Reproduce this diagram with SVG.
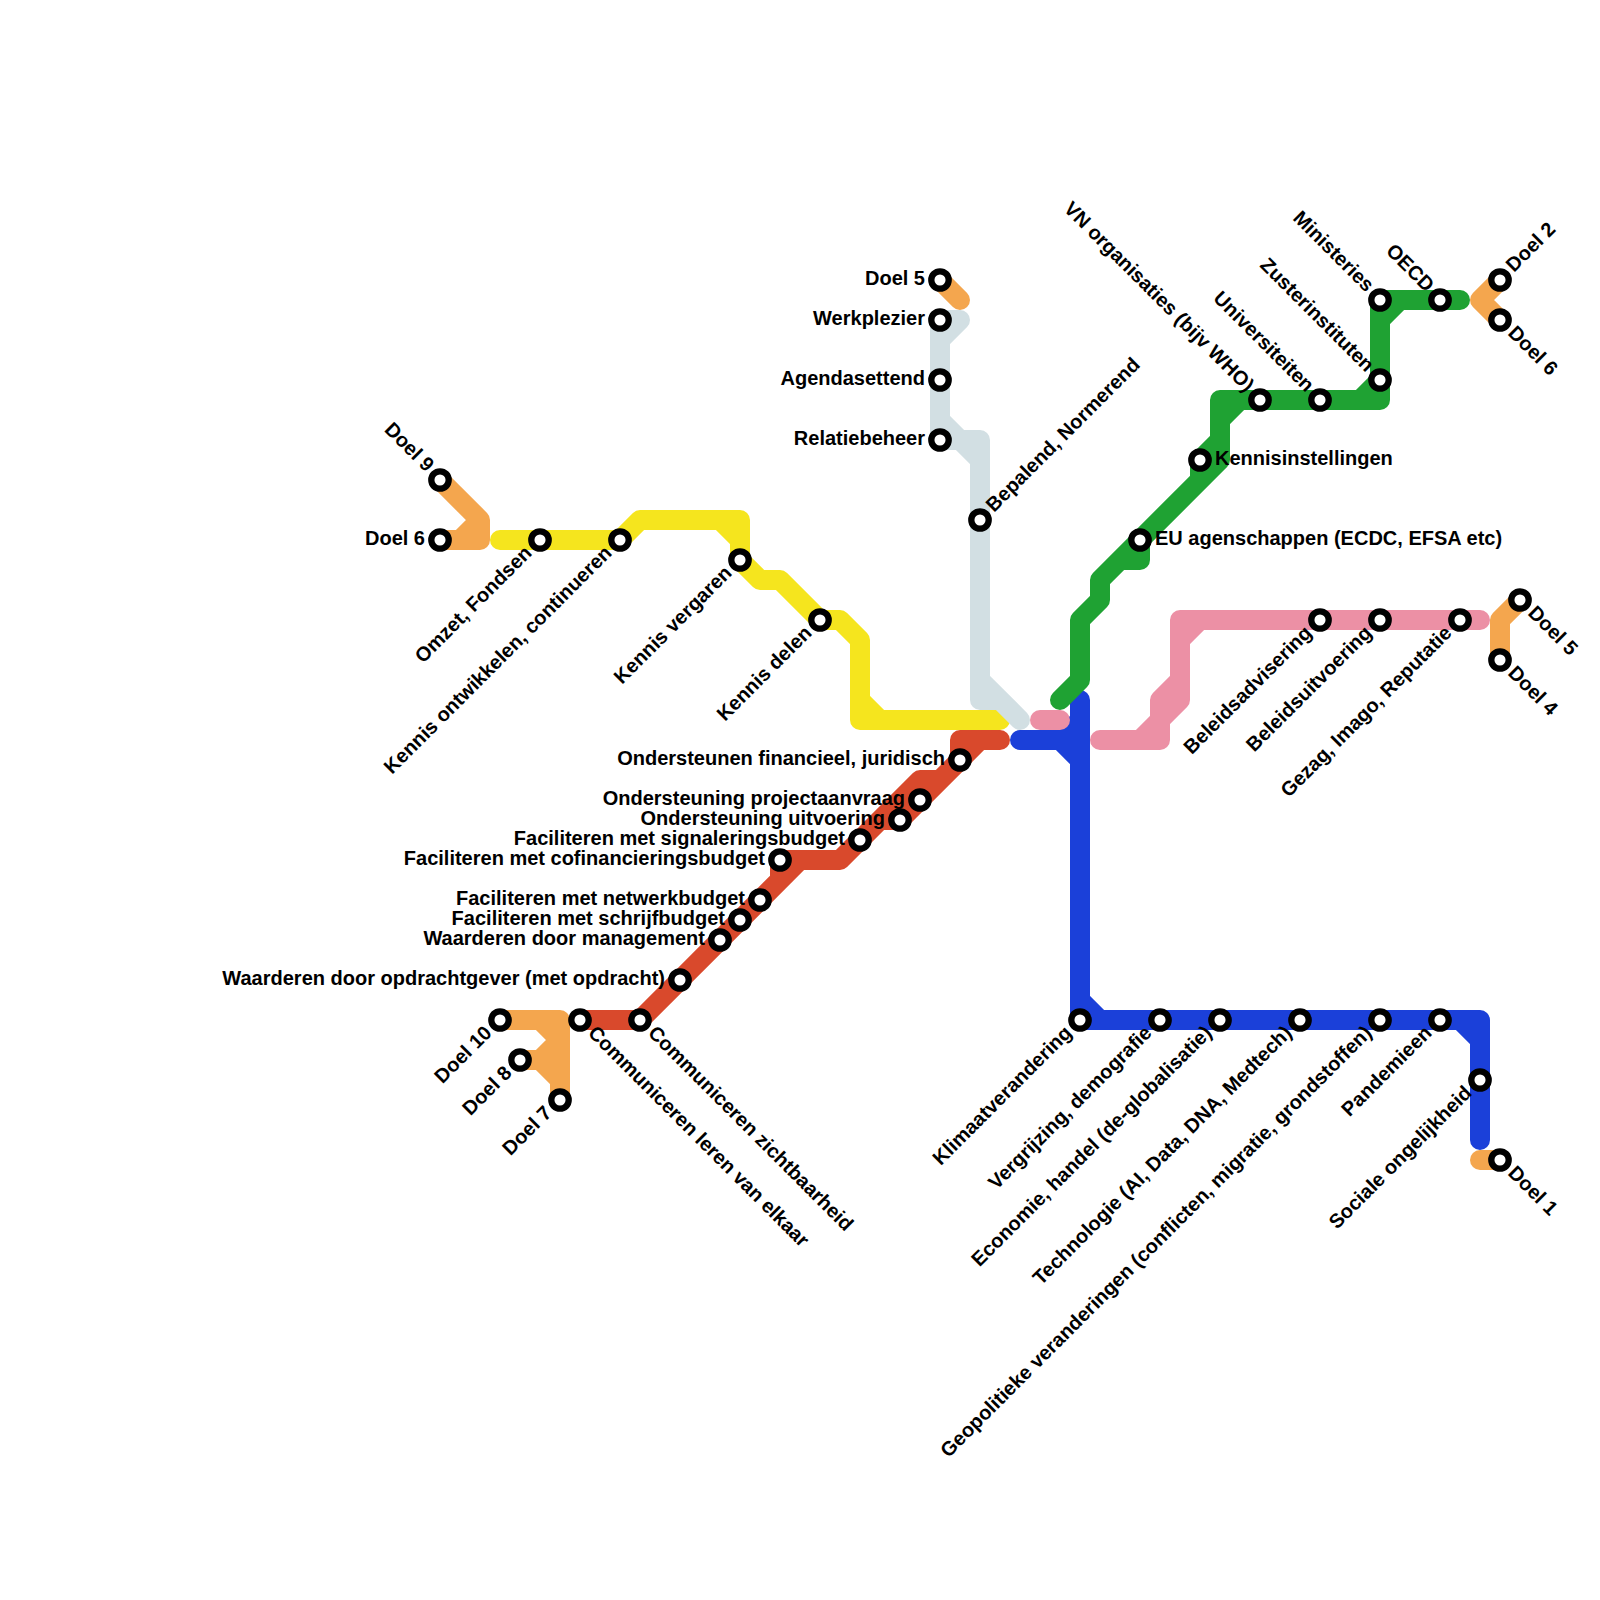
<svg xmlns="http://www.w3.org/2000/svg" width="1600" height="1600" viewBox="0 0 1600 1600">
<style>
.l{fill:none;stroke-width:20;stroke-linecap:round;stroke-linejoin:round}
.or{stroke:#f4a64e}.ye{stroke:#f5e51e}.gr{stroke:#d2dfe3}.re{stroke:#d9492c}.bl{stroke:#1b40d9}.gn{stroke:#1fa233}.pk{stroke:#ec90a5}
.s{fill:#fff;stroke:#000;stroke-width:6.3}
text{font-family:"Liberation Sans",Arial,sans-serif;font-weight:700;font-size:20px;fill:#000}
.e{text-anchor:end}
</style>
<rect width="1600" height="1600" fill="#fff"/>
<g id="connectors">
<path class="l or" d="M440 480L480 520V540H440M460 540L480 520"/>
<path class="l or" d="M940 280L960 300"/>
<path class="l or" d="M1500 280L1480 300L1500 320"/>
<path class="l or" d="M1500 660V620L1520 600"/>
<path class="l or" d="M1480 1160H1500"/>
<path class="l or" d="M500 1020H560V1100M540 1020L560 1040L540 1060H520M540 1060L560 1080"/>
<path class="l ye" d="M500 540H620L640 520H740V560L760 580H780L820 620H840L860 640V720H1000M720 520L740 540M860 700L880 720"/>
<path class="l gr" d="M960 320H940V440H960L980 460V700H1000L1020 720M960 320L940 340M940 420L960 440H980V460M980 680L1020 720"/>
<path class="l re" d="M580 1020H640L800 860H840L880 820H900L980 740H1000M760 900L780 880V860H840L920 780H940L960 760V740H1000"/>
<path class="l bl" d="M1080 700V1020H1480V1140M1020 740H1060L1080 720M1060 740L1080 760M1080 1000L1100 1020M1460 1020L1480 1040"/>
<path class="l gn" d="M1460 300H1380V400H1220V440L1200 460V480M1380 320L1400 300M1360 400L1380 380M1220 420L1240 400M1220 460L1100 580V600L1080 620V680L1060 700M1140 540V560H1120L1100 580M1220 440V460"/>
<path class="l pk" d="M1040 720H1060"/>
<path class="l pk" d="M1100 740H1160V720L1180 700V620H1480M1140 740L1160 720V700L1180 680M1180 640L1200 620"/>
</g>
<g id="n-doel9"><circle class="s" cx="440" cy="480" r="8.7"/><text class="e" transform="translate(425.9 472.9) rotate(45)">Doel 9</text></g>
<g id="n-doel6a"><circle class="s" cx="440" cy="540" r="8.7"/><text class="e" x="425" y="545">Doel 6</text></g>
<g id="n-omzet"><circle class="s" cx="540" cy="540" r="8.7"/><text class="e" transform="translate(532.9 554.1) rotate(-45)">Omzet, Fondsen</text></g>
<g id="n-ontwikkelen"><circle class="s" cx="620" cy="540" r="8.7"/><text class="e" transform="translate(612.9 554.1) rotate(-45)">Kennis ontwikkelen, continueren</text></g>
<g id="n-vergaren"><circle class="s" cx="740" cy="560" r="8.7"/><text class="e" transform="translate(732.9 574.1) rotate(-45)">Kennis vergaren</text></g>
<g id="n-delen"><circle class="s" cx="820" cy="620" r="8.7"/><text class="e" transform="translate(812.9 634.1) rotate(-45)">Kennis delen</text></g>
<g id="n-doel5a"><circle class="s" cx="940" cy="280" r="8.7"/><text class="e" x="925" y="285">Doel 5</text></g>
<g id="n-werkplezier"><circle class="s" cx="940" cy="320" r="8.7"/><text class="e" x="925" y="325">Werkplezier</text></g>
<g id="n-agenda"><circle class="s" cx="940" cy="380" r="8.7"/><text class="e" x="925" y="385">Agendasettend</text></g>
<g id="n-relatie"><circle class="s" cx="940" cy="440" r="8.7"/><text class="e" x="925" y="445">Relatiebeheer</text></g>
<g id="n-bepalend"><circle class="s" cx="980" cy="520" r="8.7"/><text transform="translate(994.1 512.9) rotate(-45)">Bepalend, Normerend</text></g>
<g id="n-financieel"><circle class="s" cx="960" cy="760" r="8.7"/><text class="e" x="945" y="765">Ondersteunen financieel, juridisch</text></g>
<g id="n-project"><circle class="s" cx="920" cy="800" r="8.7"/><text class="e" x="905" y="805">Ondersteuning projectaanvraag</text></g>
<g id="n-uitvoering"><circle class="s" cx="900" cy="820" r="8.7"/><text class="e" x="885" y="825">Ondersteuning uitvoering</text></g>
<g id="n-signalering"><circle class="s" cx="860" cy="840" r="8.7"/><text class="e" x="845" y="845">Faciliteren met signaleringsbudget</text></g>
<g id="n-cofin"><circle class="s" cx="780" cy="860" r="8.7"/><text class="e" x="765" y="865">Faciliteren met cofinancieringsbudget</text></g>
<g id="n-netwerk"><circle class="s" cx="760" cy="900" r="8.7"/><text class="e" x="745" y="905">Faciliteren met netwerkbudget</text></g>
<g id="n-schrijf"><circle class="s" cx="740" cy="920" r="8.7"/><text class="e" x="725" y="925">Faciliteren met schrijfbudget</text></g>
<g id="n-management"><circle class="s" cx="720" cy="940" r="8.7"/><text class="e" x="705" y="945">Waarderen door management</text></g>
<g id="n-opdrachtgever"><circle class="s" cx="680" cy="980" r="8.7"/><text class="e" x="665" y="985">Waarderen door opdrachtgever (met opdracht)</text></g>
<g id="n-zichtbaar"><circle class="s" cx="640" cy="1020" r="8.7"/><text transform="translate(647.1 1034.1) rotate(45)">Communiceren zichtbaarheid</text></g>
<g id="n-leren"><circle class="s" cx="580" cy="1020" r="8.7"/><text transform="translate(587.1 1034.1) rotate(45)">Communiceren leren van elkaar</text></g>
<g id="n-doel10"><circle class="s" cx="500" cy="1020" r="8.7"/><text class="e" transform="translate(492.9 1034.1) rotate(-45)">Doel 10</text></g>
<g id="n-doel8"><circle class="s" cx="520" cy="1060" r="8.7"/><text class="e" transform="translate(512.9 1074.1) rotate(-45)">Doel 8</text></g>
<g id="n-doel7"><circle class="s" cx="560" cy="1100" r="8.7"/><text class="e" transform="translate(552.9 1114.1) rotate(-45)">Doel 7</text></g>
<g id="n-klimaat"><circle class="s" cx="1080" cy="1020" r="8.7"/><text class="e" transform="translate(1072.9 1034.1) rotate(-45)">Klimaatverandering</text></g>
<g id="n-vergrijzing"><circle class="s" cx="1160" cy="1020" r="8.7"/><text class="e" transform="translate(1152.9 1034.1) rotate(-45)">Vergrijzing, demografie</text></g>
<g id="n-economie"><circle class="s" cx="1220" cy="1020" r="8.7"/><text class="e" transform="translate(1212.9 1034.1) rotate(-45)">Economie, handel (de-globalisatie)</text></g>
<g id="n-technologie"><circle class="s" cx="1300" cy="1020" r="8.7"/><text class="e" transform="translate(1292.9 1034.1) rotate(-45)">Technologie (AI, Data, DNA, Medtech)</text></g>
<g id="n-geopolitiek"><circle class="s" cx="1380" cy="1020" r="8.7"/><text class="e" transform="translate(1372.9 1034.1) rotate(-45)">Geopolitieke veranderingen (conflicten, migratie, grondstoffen)</text></g>
<g id="n-pandemie"><circle class="s" cx="1440" cy="1020" r="8.7"/><text class="e" transform="translate(1432.9 1034.1) rotate(-45)">Pandemieen</text></g>
<g id="n-sociaal"><circle class="s" cx="1480" cy="1080" r="8.7"/><text class="e" transform="translate(1472.9 1094.1) rotate(-45)">Sociale ongelijkheid</text></g>
<g id="n-doel1"><circle class="s" cx="1500" cy="1160" r="8.7"/><text transform="translate(1507.1 1174.1) rotate(45)">Doel 1</text></g>
<g id="n-advisering"><circle class="s" cx="1320" cy="620" r="8.7"/><text class="e" transform="translate(1312.9 634.1) rotate(-45)">Beleidsadvisering</text></g>
<g id="n-beleiduitv"><circle class="s" cx="1380" cy="620" r="8.7"/><text class="e" transform="translate(1372.9 634.1) rotate(-45)">Beleidsuitvoering</text></g>
<g id="n-gezag"><circle class="s" cx="1460" cy="620" r="8.7"/><text class="e" transform="translate(1452.9 634.1) rotate(-45)">Gezag, Imago, Reputatie</text></g>
<g id="n-doel5b"><circle class="s" cx="1520" cy="600" r="8.7"/><text transform="translate(1527.1 614.1) rotate(45)">Doel 5</text></g>
<g id="n-doel4"><circle class="s" cx="1500" cy="660" r="8.7"/><text transform="translate(1507.1 674.1) rotate(45)">Doel 4</text></g>
<g id="n-eu"><circle class="s" cx="1140" cy="540" r="8.7"/><text x="1155" y="545">EU agenschappen (ECDC, EFSA etc)</text></g>
<g id="n-kennisinst"><circle class="s" cx="1200" cy="460" r="8.7"/><text x="1215" y="465">Kennisinstellingen</text></g>
<g id="n-vn"><circle class="s" cx="1260" cy="400" r="8.7"/><text class="e" transform="translate(1245.9 392.9) rotate(45)">VN organisaties (bijv WHO)</text></g>
<g id="n-univ"><circle class="s" cx="1320" cy="400" r="8.7"/><text class="e" transform="translate(1305.9 392.9) rotate(45)">Universiteiten</text></g>
<g id="n-zuster"><circle class="s" cx="1380" cy="380" r="8.7"/><text class="e" transform="translate(1365.9 372.9) rotate(45)">Zusterinstituten</text></g>
<g id="n-minist"><circle class="s" cx="1380" cy="300" r="8.7"/><text class="e" transform="translate(1365.9 292.9) rotate(45)">Ministeries</text></g>
<g id="n-oecd"><circle class="s" cx="1440" cy="300" r="8.7"/><text class="e" transform="translate(1425.9 292.9) rotate(45)">OECD</text></g>
<g id="n-doel2"><circle class="s" cx="1500" cy="280" r="8.7"/><text transform="translate(1514.1 272.9) rotate(-45)">Doel 2</text></g>
<g id="n-doel6b"><circle class="s" cx="1500" cy="320" r="8.7"/><text transform="translate(1507.1 334.1) rotate(45)">Doel 6</text></g>
</svg>
